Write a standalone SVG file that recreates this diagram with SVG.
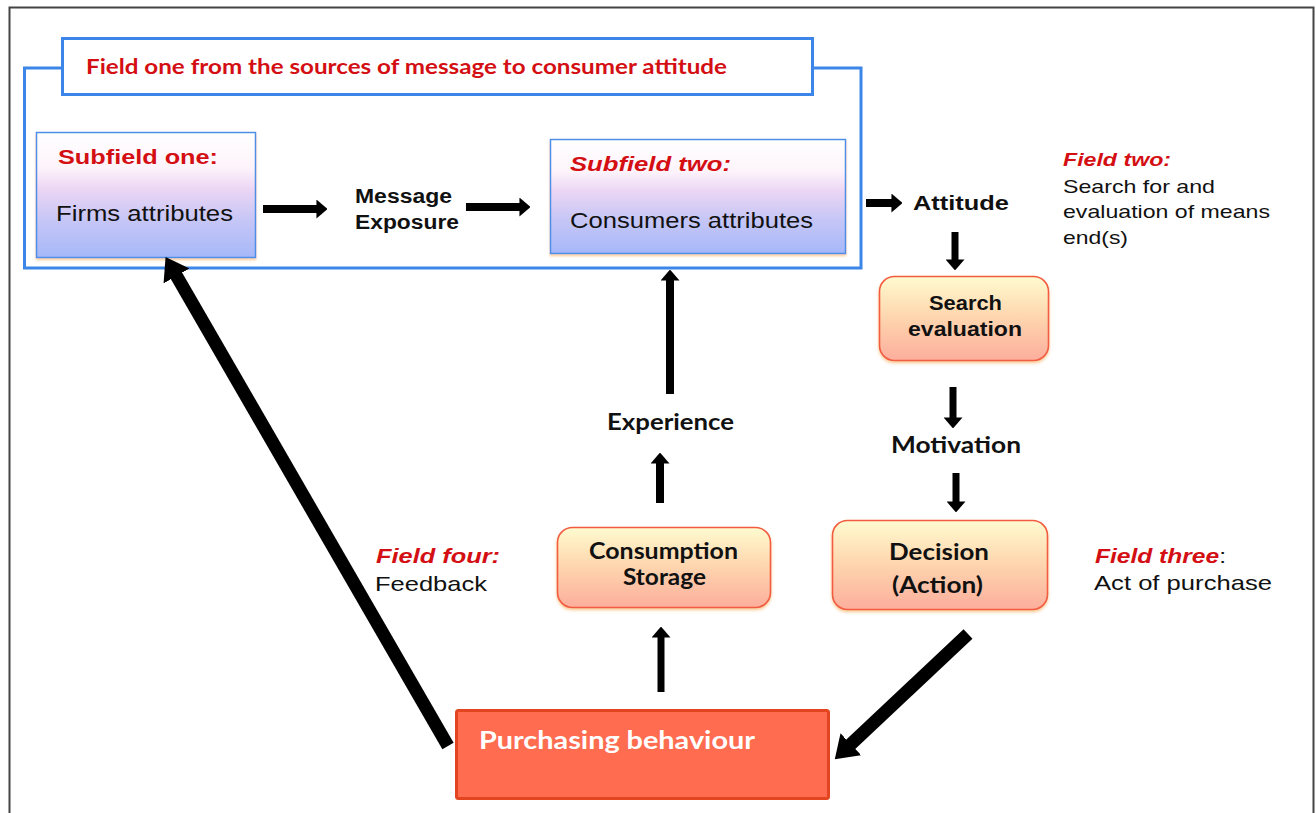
<svg xmlns="http://www.w3.org/2000/svg" width="1316" height="813" viewBox="0 0 1316 813">
  <style>
    .sans { font-family: "Liberation Sans", Arial, sans-serif; }
    .cal { font-family: Lato, "Open Sans", sans-serif; font-weight: 700; }
    .red { fill: #d40f14; }
    .blk { fill: #111111; }
    .bold { font-weight: 700; }
    .ital { font-style: italic; }
    .frame { fill: none; stroke: #3b86e8; stroke-width: 3; }
    .subbox { fill: url(#subGrad); stroke: #4d8fe6; stroke-width: 1.5; }
    .obox { fill: url(#orangeGrad); stroke: #f25c42; stroke-width: 1.6; filter: url(#glow); }
    .shaft { stroke: #000; fill: none; stroke-linecap: butt; }
  </style>
  <defs>
    <linearGradient id="subGrad" x1="0" y1="0" x2="0" y2="1">
      <stop offset="0" stop-color="#ffffff"/>
      <stop offset="0.28" stop-color="#fdf4fb"/>
      <stop offset="0.45" stop-color="#ecd6f4"/>
      <stop offset="0.7" stop-color="#c6c6f6"/>
      <stop offset="1" stop-color="#a6b8f9"/>
    </linearGradient>
    <linearGradient id="orangeGrad" x1="0" y1="0" x2="0" y2="1">
      <stop offset="0" stop-color="#fffbd0"/>
      <stop offset="0.45" stop-color="#fed8b0"/>
      <stop offset="1" stop-color="#fcae9c"/>
    </linearGradient>
    <filter id="glow" x="-10%" y="-10%" width="120%" height="130%">
      <feDropShadow dx="0" dy="2" stdDeviation="1.5" flood-color="#f5a040" flood-opacity="0.55"/>
    </filter>
    <filter id="shadowBlue" x="-10%" y="-10%" width="120%" height="130%">
      <feDropShadow dx="0" dy="2" stdDeviation="1.2" flood-color="#f5b060" flood-opacity="0.6"/>
    </filter>
    <marker id="ah" viewBox="0 0 10 10" markerUnits="userSpaceOnUse" markerWidth="11" markerHeight="19" refX="0.5" refY="5" orient="auto" preserveAspectRatio="none">
      <path d="M0,0 L10,5 L0,10 Z" fill="#000"/>
    </marker>
    <marker id="ahBig" viewBox="0 0 10 10" markerUnits="userSpaceOnUse" markerWidth="22" markerHeight="30" refX="0.5" refY="5" orient="auto" preserveAspectRatio="none">
      <path d="M0,0 L10,5 L0,10 Z" fill="#000"/>
    </marker>
  </defs>

  <rect width="1316" height="813" fill="#ffffff"/>
  <!-- page border -->
  <path d="M9.5,830 V7.5 H1313.5 V830" fill="none" stroke="#444" stroke-width="2"/>

  <!-- Field one container -->
  <g id="field-one">
    <path class="frame" d="M62,68 H24.5 V268 H861 V68 H812"/>
    <rect class="frame" x="62.5" y="38.5" width="750" height="56" fill="#fff"/>
    <text class="cal red" x="86" y="74" font-size="21" textLength="641" lengthAdjust="spacingAndGlyphs">Field one from the sources of message to consumer attitude</text>
  </g>

  <g id="subfield-one">
    <rect class="subbox" x="36.5" y="132.5" width="219" height="125" filter="url(#shadowBlue)"/>
    <text class="sans red bold" x="58" y="164" font-size="21" textLength="160" lengthAdjust="spacingAndGlyphs">Subfield one:</text>
    <text class="sans blk" x="56" y="221" font-size="22" textLength="177" lengthAdjust="spacingAndGlyphs">Firms attributes</text>
  </g>

  <g id="message-exposure">
    <text class="sans blk bold" x="355" y="203" font-size="20" textLength="97" lengthAdjust="spacingAndGlyphs">Message</text>
    <text class="sans blk bold" x="355" y="229" font-size="20" textLength="104" lengthAdjust="spacingAndGlyphs">Exposure</text>
  </g>

  <g id="subfield-two">
    <rect class="subbox" x="550.5" y="139.5" width="295" height="114" filter="url(#shadowBlue)"/>
    <text class="sans red bold ital" x="570" y="171" font-size="21" textLength="161" lengthAdjust="spacingAndGlyphs">Subfield two:</text>
    <text class="sans blk" x="570" y="228" font-size="22" textLength="243" lengthAdjust="spacingAndGlyphs">Consumers attributes</text>
  </g>

  <g id="attitude">
    <text class="sans blk bold" x="913" y="210" font-size="21" textLength="96" lengthAdjust="spacingAndGlyphs">Attitude</text>
  </g>

  <g id="field-two">
    <text class="sans red bold ital" x="1063" y="166" font-size="19" textLength="108" lengthAdjust="spacingAndGlyphs">Field two:</text>
    <text class="sans blk" x="1063" y="193" font-size="19" textLength="152" lengthAdjust="spacingAndGlyphs">Search for and</text>
    <text class="sans blk" x="1063" y="218" font-size="19" textLength="207" lengthAdjust="spacingAndGlyphs">evaluation of means</text>
    <text class="sans blk" x="1063" y="244" font-size="19" textLength="65" lengthAdjust="spacingAndGlyphs">end(s)</text>
  </g>

  <g id="search-evaluation">
    <rect class="obox" x="879.5" y="276.5" width="169" height="84" rx="15"/>
    <text class="sans blk bold" x="929" y="310" font-size="20" textLength="73" lengthAdjust="spacingAndGlyphs">Search</text>
    <text class="sans blk bold" x="908" y="336" font-size="20" textLength="114" lengthAdjust="spacingAndGlyphs">evaluation</text>
  </g>

  <g id="motivation">
    <text class="cal blk" x="891" y="453" font-size="22" textLength="130" lengthAdjust="spacingAndGlyphs">Motivation</text>
  </g>

  <g id="decision">
    <rect class="obox" x="832.5" y="520.5" width="215" height="89" rx="15"/>
    <text class="cal blk" x="889" y="560" font-size="22" textLength="100" lengthAdjust="spacingAndGlyphs">Decision</text>
    <text class="cal blk" x="892" y="593" font-size="22" textLength="91" lengthAdjust="spacingAndGlyphs">(Action)</text>
  </g>

  <g id="field-three">
    <text class="sans red bold ital" x="1095" y="563" font-size="20" textLength="131" lengthAdjust="spacingAndGlyphs">Field three<tspan class="blk" font-weight="400" font-style="normal">:</tspan></text>
    <text class="sans blk" x="1094" y="590" font-size="21" textLength="178" lengthAdjust="spacingAndGlyphs">Act of purchase</text>
  </g>

  <g id="experience">
    <text class="cal blk" x="607" y="430" font-size="22" textLength="127" lengthAdjust="spacingAndGlyphs">Experience</text>
  </g>

  <g id="consumption-storage">
    <rect class="obox" x="557.5" y="527.5" width="213" height="80" rx="15"/>
    <text class="cal blk" x="589" y="559" font-size="22" textLength="149" lengthAdjust="spacingAndGlyphs">Consumption</text>
    <text class="cal blk" x="623" y="585" font-size="22" textLength="83" lengthAdjust="spacingAndGlyphs">Storage</text>
  </g>

  <g id="field-four">
    <text class="sans red bold ital" x="376" y="563" font-size="20" textLength="124" lengthAdjust="spacingAndGlyphs">Field four:</text>
    <text class="sans blk" x="375" y="591" font-size="21" textLength="112" lengthAdjust="spacingAndGlyphs">Feedback</text>
  </g>

  <g id="purchasing-behaviour">
    <rect x="456.5" y="710.5" width="372" height="88" rx="2" fill="#ff6c4f" stroke="#e2451f" stroke-width="3"/>
    <text class="cal" x="479" y="749" font-size="25" fill="#ffffff" textLength="276" lengthAdjust="spacingAndGlyphs">Purchasing behaviour</text>
  </g>

  <!-- connectors -->
  <g id="connectors">
    <line class="shaft" x1="263" y1="209" x2="317" y2="209" stroke-width="8" marker-end="url(#ah)"/>
    <line class="shaft" x1="466" y1="207" x2="520" y2="207" stroke-width="8" marker-end="url(#ah)"/>
    <line class="shaft" x1="866" y1="203" x2="892" y2="203" stroke-width="8" marker-end="url(#ah)"/>
    <line class="shaft" x1="955" y1="232" x2="955" y2="260" stroke-width="7" marker-end="url(#ah)"/>
    <line class="shaft" x1="953" y1="387" x2="953" y2="418" stroke-width="7" marker-end="url(#ah)"/>
    <line class="shaft" x1="956" y1="473" x2="956" y2="502" stroke-width="7" marker-end="url(#ah)"/>
    <line class="shaft" x1="670" y1="394" x2="670" y2="280" stroke-width="8" marker-end="url(#ah)"/>
    <line class="shaft" x1="660" y1="503" x2="660" y2="463" stroke-width="8" marker-end="url(#ah)"/>
    <line class="shaft" x1="661" y1="692" x2="661" y2="637" stroke-width="7" marker-end="url(#ah)"/>
    <!-- feedback from purchasing behaviour back to firms -->
    <line class="shaft" x1="448" y1="746" x2="176" y2="275" stroke-width="13" marker-end="url(#ahBig)"/>
    <!-- decision down to purchasing behaviour -->
    <line class="shaft" x1="968" y1="634" x2="850" y2="745" stroke-width="13" marker-end="url(#ahBig)"/>
  </g>
</svg>
